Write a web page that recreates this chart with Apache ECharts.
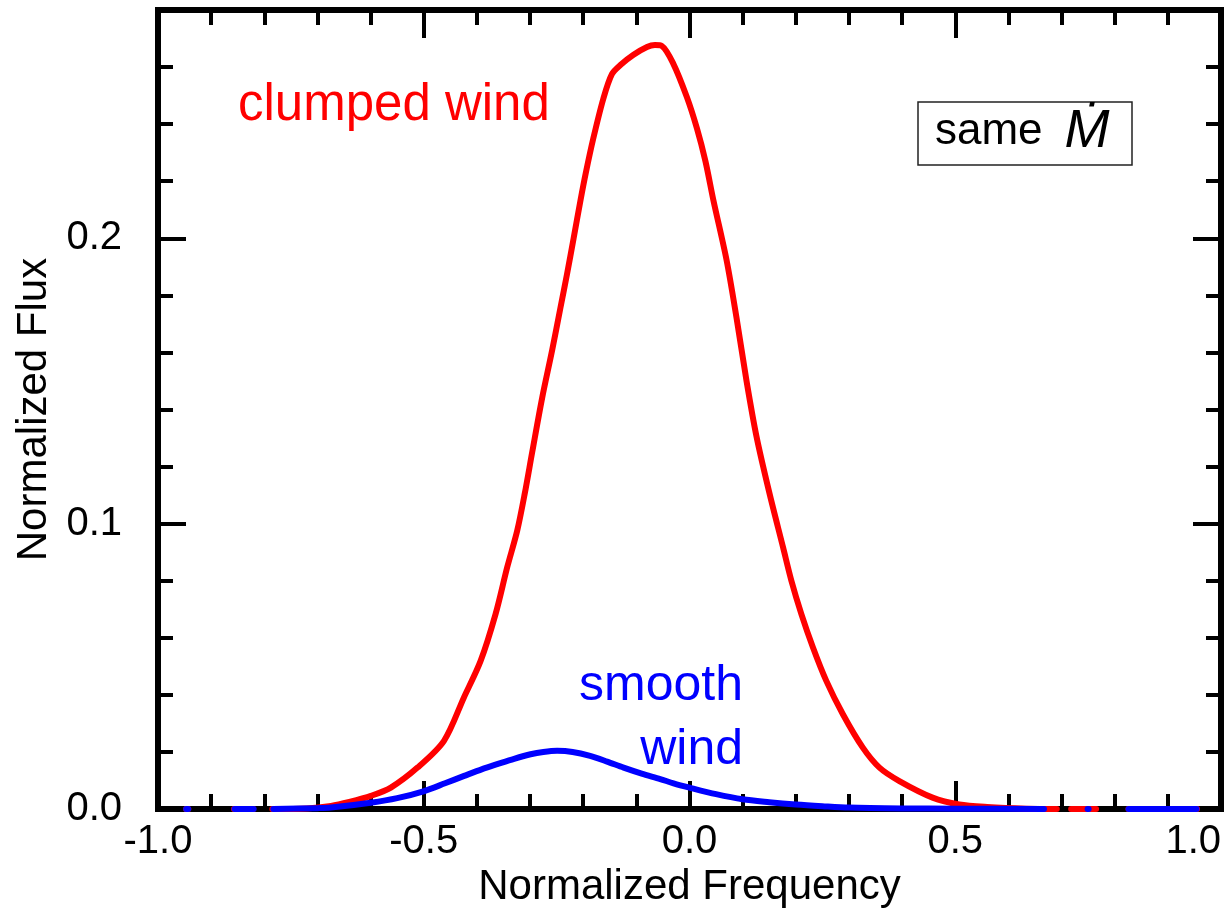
<!DOCTYPE html>
<html>
<head>
<meta charset="utf-8">
<title>Normalized line profiles</title>
<script src="https://cdn.jsdelivr.net/npm/echarts@6/dist/echarts.min.js"></script>
<style>
  html, body { margin: 0; padding: 0; background: #ffffff; }
  #chart { width: 1227px; height: 917px; }
</style>
</head>
<body>
<div id="chart"></div>
<script>
// Line profiles: flux vs. normalized frequency (null = gap in the trace)
const clumpedFreq = [
  -0.947, -0.943, -0.900, -0.857, -0.821, -0.800,
  -0.785, -0.720, -0.6745, -0.640, -0.5994, -0.5619, -0.5118, -0.4619, -0.4244,
  -0.393, -0.3649, -0.343, -0.3242, -0.310, -0.296, -0.2773, -0.2585, -0.243,
  -0.2304, -0.218, -0.2054, -0.195, -0.181, -0.162, -0.146, -0.130, -0.106,
  -0.080, -0.065, -0.052, -0.031, -0.005, 0.014, 0.030, 0.045, 0.0698, 0.0886,
  0.1073, 0.1261, 0.150, 0.176, 0.1917, 0.2105, 0.2323, 0.2574, 0.2886, 0.3261,
  0.3574, 0.3949, 0.4574, 0.5075, 0.560, 0.633, 0.691,
  0.705, 0.718, 0.765, 0.790, 0.826, 0.955
];
const clumpedFlux = [
  0, 0, null, 0, 0, null,
  0, 0.0002, 0.0011, 0.0025, 0.0046, 0.0075, 0.0145, 0.0239, 0.0391,
  0.0519, 0.0683, 0.0847, 0.0975, 0.1105, 0.1250, 0.1440, 0.1607, 0.1755,
  0.1875, 0.2000, 0.2130, 0.2230, 0.2350, 0.2490, 0.2575, 0.2607, 0.2642,
  0.2670, 0.2677, 0.2674, 0.2614, 0.2495, 0.2385, 0.2270, 0.2133, 0.1923, 0.1720,
  0.1500, 0.1305, 0.1110, 0.0917, 0.0800, 0.0683, 0.0566, 0.0449, 0.0332, 0.0215,
  0.0145, 0.0098, 0.0040, 0.0016, 0.0007, 0.0001, 0,
  null, 0, 0, null, 0, 0
];

const smoothFreq = [
  -0.947, -0.943, -0.900, -0.856, -0.820, -0.800,
  -0.783, -0.700, -0.6745, -0.600, -0.550, -0.499, -0.460, -0.424, -0.390,
  -0.362, -0.330, -0.299, -0.275, -0.249, -0.220, -0.187, -0.155, -0.124,
  -0.090, -0.055, -0.030, 0.000, 0.050, 0.100, 0.150, 0.200, 0.250, 0.300,
  0.400, 0.500, 0.667,
  0.700, 0.749, 0.751, 0.790, 0.826, 0.954
];
const smoothFlux = [
  0, 0, null, 0, 0, null,
  0, 0.0003, 0.0005, 0.0022, 0.0038, 0.0063, 0.0090, 0.0116, 0.0140,
  0.0157, 0.0176, 0.0192, 0.0200, 0.0204, 0.0200, 0.0186, 0.0166, 0.0145,
  0.0124, 0.0105, 0.0090, 0.0075, 0.0052, 0.0034, 0.0024, 0.0016, 0.0010, 0.0005,
  0.0002, 0.0001, 0,
  null, 0, 0, null, 0, 0
];

// Axis ticks
const freqMajorTicks = [-1.0, -0.5, 0.0, 0.5, 1.0];
const fluxMajorTicks = [0.0, 0.1, 0.2];

const FONT = "'Liberation Sans', Arial, Helvetica, sans-serif";

function toPairs(xs, ys) {
  return xs.map((x, i) => [x, ys[i] === null ? '-' : ys[i]]);
}

const frameLine = { show: true, onZero: false, lineStyle: { color: '#000', width: 6, cap: 'square' } };
const noLine = { show: false, onZero: false };
const majorTick = { show: true, inside: true, length: 28, lineStyle: { color: '#000', width: 4 } };
const minorTickStyle = { show: true, inside: true, length: 15, lineStyle: { color: '#000', width: 4 } };

function xAxisDef(position, major) {
  return {
    type: 'value', gridIndex: 0, position: position,
    min: -1, max: 1, interval: major ? 0.5 : 0.1,
    axisLine: major ? frameLine : noLine,
    axisTick: major ? majorTick : minorTickStyle,
    splitLine: { show: false },
    axisLabel: (major && position === 'bottom') ? {
      show: true, color: '#000', fontFamily: FONT, fontSize: 40, margin: 13,
      alignMaxLabel: 'right',
      formatter: v => freqMajorTicks.some(t => Math.abs(t - v) < 1e-9) ? v.toFixed(1) : ''
    } : { show: false },
    name: (major && position === 'bottom') ? 'Normalized Frequency' : '',
    nameLocation: 'middle', nameGap: 52,
    nameTextStyle: { color: '#000', fontFamily: FONT, fontSize: 42 }
  };
}

function yAxisDef(position, major) {
  return {
    type: 'value', gridIndex: 0, position: position,
    min: 0, max: 0.28, interval: major ? 0.1 : 0.02,
    axisLine: major ? frameLine : noLine,
    axisTick: major ? majorTick : minorTickStyle,
    splitLine: { show: false },
    axisLabel: (major && position === 'left') ? {
      show: true, color: '#000', fontFamily: FONT, fontSize: 40, margin: 36,
      showMaxLabel: false,
      formatter: v => fluxMajorTicks.some(t => Math.abs(t - v) < 1e-9) ? v.toFixed(1) : ''
    } : { show: false },
    name: (major && position === 'left') ? 'Normalized Flux' : '',
    nameLocation: 'middle', nameGap: 103,
    nameTextStyle: { color: '#000', fontFamily: FONT, fontSize: 42 }
  };
}

const chart = echarts.init(document.getElementById('chart'), null, { renderer: 'canvas' });

chart.setOption({
  animation: false,
  backgroundColor: '#ffffff',
  grid: { left: 158, right: 6, top: 10, bottom: 108, containLabel: false },
  xAxis: [
    xAxisDef('bottom', true), xAxisDef('bottom', false),
    xAxisDef('top', true), xAxisDef('top', false)
  ],
  yAxis: [
    yAxisDef('left', true), yAxisDef('left', false),
    yAxisDef('right', true), yAxisDef('right', false)
  ],
  series: [
    {
      name: 'clumped wind', type: 'line', xAxisIndex: 0, yAxisIndex: 0,
      data: toPairs(clumpedFreq, clumpedFlux),
      showSymbol: false, symbol: 'none', connectNulls: false,
      smooth: 0.3,
      lineStyle: { color: '#ff0000', width: 6, cap: 'round', join: 'round' },
      z: 3
    },
    {
      name: 'smooth wind', type: 'line', xAxisIndex: 0, yAxisIndex: 0,
      data: toPairs(smoothFreq, smoothFlux),
      showSymbol: false, symbol: 'none', connectNulls: false,
      smooth: 0.3,
      lineStyle: { color: '#0000ff', width: 6, cap: 'round', join: 'round' },
      z: 4
    }
  ],
  graphic: [
    {
      type: 'text', x: 238, y: 106,
      style: { text: 'clumped wind', fill: '#ff0000', font: '51px ' + FONT,
               align: 'left', verticalAlign: 'middle' }
    },
    {
      type: 'text', x: 743, y: 686,
      style: { text: 'smooth', fill: '#0000ff', font: '50px ' + FONT,
               align: 'right', verticalAlign: 'middle' }
    },
    {
      type: 'text', x: 743, y: 750,
      style: { text: 'wind', fill: '#0000ff', font: '50px ' + FONT,
               align: 'right', verticalAlign: 'middle' }
    },
    {
      type: 'rect', shape: { x: 918, y: 102, width: 214, height: 63 },
      style: { fill: '#ffffff', stroke: '#222', lineWidth: 1.5 }
    },
    {
      type: 'text', x: 935, y: 132,
      style: {
        text: '{a|same}{b|\u1E40}',
        align: 'left', verticalAlign: 'middle',
        rich: {
          a: { fontFamily: FONT, fontSize: 44, fill: '#000', color: '#000' },
          b: { fontFamily: FONT, fontSize: 54, fontStyle: 'italic', fill: '#000', color: '#000',
               padding: [0, 0, 0, 22] }
        }
      }
    }
  ]
});
</script>
</body>
</html>
